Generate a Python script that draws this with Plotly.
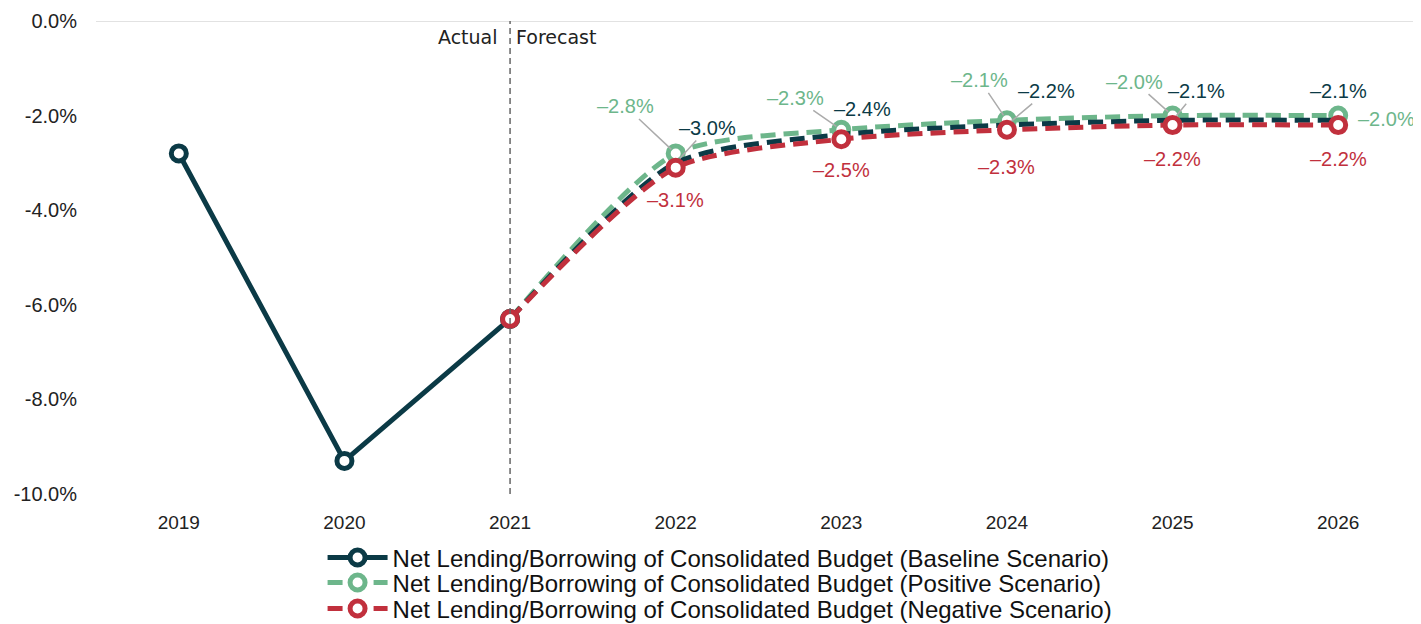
import plotly.graph_objects as go

years = [2019, 2020, 2021, 2022, 2023, 2024, 2025, 2026]
baseline = [-2.8, -9.3, -6.3, -3.0, -2.4, -2.2, -2.1, -2.1]
positive = [None, None, -6.3, -2.8, -2.3, -2.1, -2.0, -2.0]
negative = [None, None, -6.3, -3.1, -2.5, -2.3, -2.2, -2.2]
y_ticks = [0, -2, -4, -6, -8, -10]
y_tick_labels = ["0.0%", "-2.0%", "-4.0%", "-6.0%", "-8.0%", "-10.0%"]

names = {
    "base": "Net Lending/Borrowing of Consolidated Budget (Baseline Scenario)",
    "pos": "Net Lending/Borrowing of Consolidated Budget (Positive Scenario)",
    "neg": "Net Lending/Borrowing of Consolidated Budget (Negative Scenario)",
}
C_BASE = "#0B3A46"
C_POS = "#6DB68B"
C_NEG = "#C1303D"
LEADER = "#ABABAB"
FONT = "Liberation Sans"

first_fc = years.index(2021)
fc_years = years[first_fc:]

fig = go.Figure()

def marker_style(c):
    return dict(symbol="circle", size=15, color="white", line=dict(color=c, width=5))

DASH = "15px,8px"
SMOOTH = 0.7

# Positive (drawn first, below)
fig.add_trace(go.Scatter(
    x=fc_years, y=positive[first_fc:], mode="lines+markers", name=names["pos"],
    line=dict(color=C_POS, width=5, dash=DASH, shape="spline", smoothing=SMOOTH),
    marker=marker_style(C_POS), legend="legend2",
))
# Baseline forecast (dashed, no markers)
fig.add_trace(go.Scatter(
    x=fc_years, y=baseline[first_fc:], mode="lines", showlegend=False,
    line=dict(color=C_BASE, width=5, dash=DASH, shape="spline", smoothing=SMOOTH),
))
# Baseline actual
fig.add_trace(go.Scatter(
    x=years[:first_fc + 1], y=baseline[:first_fc + 1], mode="lines+markers", name=names["base"],
    line=dict(color=C_BASE, width=5), marker=marker_style(C_BASE), legend="legend",
))
# Negative
fig.add_trace(go.Scatter(
    x=fc_years, y=negative[first_fc:], mode="lines+markers", name=names["neg"],
    line=dict(color=C_NEG, width=5, dash=DASH, shape="spline", smoothing=SMOOTH),
    marker=marker_style(C_NEG), legend="legend3",
))

def fmt(v):
    return "\u2013" + f"{abs(v):.1f}%"

# label offsets in pixels (dx, dy, leader?) per forecast year
label_offsets = {
    "pos": {2022: (-50, -47, True), 2023: (-46, -32, True), 2024: (-27, -40, True),
            2025: (-38, -34, True), 2026: (48, 3, False)},
    "base": {2022: (32, -35, True), 2023: (21, -26, False), 2024: (40, -34, True),
             2025: (24, -29, True), 2026: (0, -29, False)},
    "neg": {2022: (0, 32, False), 2023: (0, 31, False), 2024: (0, 37, False),
            2025: (0, 34, False), 2026: (0, 34, False)},
}
series = {"pos": (positive, C_POS), "base": (baseline, C_BASE), "neg": (negative, C_NEG)}
for key, offs in label_offsets.items():
    vals, col = series[key]
    for yr, (dx, dy, leader) in offs.items():
        v = vals[years.index(yr)]
        if leader:
            fig.add_annotation(x=yr, y=v, text=fmt(v), showarrow=True, ax=dx, ay=dy,
                               arrowhead=0, arrowwidth=1.5, arrowcolor=LEADER, standoff=6,
                               font=dict(family=FONT, size=20, color=col))
        else:
            fig.add_annotation(x=yr, y=v, text=fmt(v), showarrow=False, xshift=dx, yshift=-dy,
                               font=dict(family=FONT, size=20, color=col))

# Actual / Forecast divider
fig.add_shape(type="line", x0=2021, x1=2021, y0=0, y1=1, yref="paper",
              line=dict(color="#666666", width=1.5, dash="6px,4px"))
fig.add_shape(type="line", x0=0, x1=1, xref="paper", y0=0, y1=0,
              line=dict(color="#D9D9D9", width=1.5), layer="below")
fig.add_annotation(x=2021, y=0, yref="y", text="Actual", showarrow=False, xanchor="right",
                   yanchor="top", xshift=-10, yshift=-3,
                   font=dict(family="DejaVu Sans", size=19, color="#222"))
fig.add_annotation(x=2021, y=0, yref="y", text="Forecast", showarrow=False, xanchor="left",
                   yanchor="top", xshift=4, yshift=-3,
                   font=dict(family="DejaVu Sans", size=19, color="#222"))

legend_common = dict(x=0.171, xanchor="left", yanchor="middle",
                     font=dict(family=FONT, size=24, color="#111"),
                     itemwidth=60, bgcolor="rgba(0,0,0,0)")

fig.update_layout(
    width=1413, height=616,
    margin=dict(l=88, r=0, t=13, b=130, autoexpand=False),
    plot_bgcolor="white", paper_bgcolor="white",
    font=dict(family=FONT, color="#222"),
    showlegend=True,
    legend=dict(y=-0.135, **legend_common),
    legend2=dict(y=-0.188, **legend_common),
    legend3=dict(y=-0.243, **legend_common),
    xaxis=dict(range=[2018.5, 2026.5], tickvals=years, ticktext=[str(y) for y in years],
               showgrid=False, zeroline=False, showline=False, automargin=False,
               ticks="outside", ticklen=11, tickcolor="white",
               tickfont=dict(family=FONT, size=19, color="#222")),
    yaxis=dict(range=[-10, 0], tickvals=y_ticks, ticktext=y_tick_labels,
               showgrid=False, zeroline=False, showline=False, automargin=False,
               ticks="outside", ticklen=14, tickcolor="white",
               tickfont=dict(family=FONT, size=20, color="#222")),
)

fig.write_html("out.html")
